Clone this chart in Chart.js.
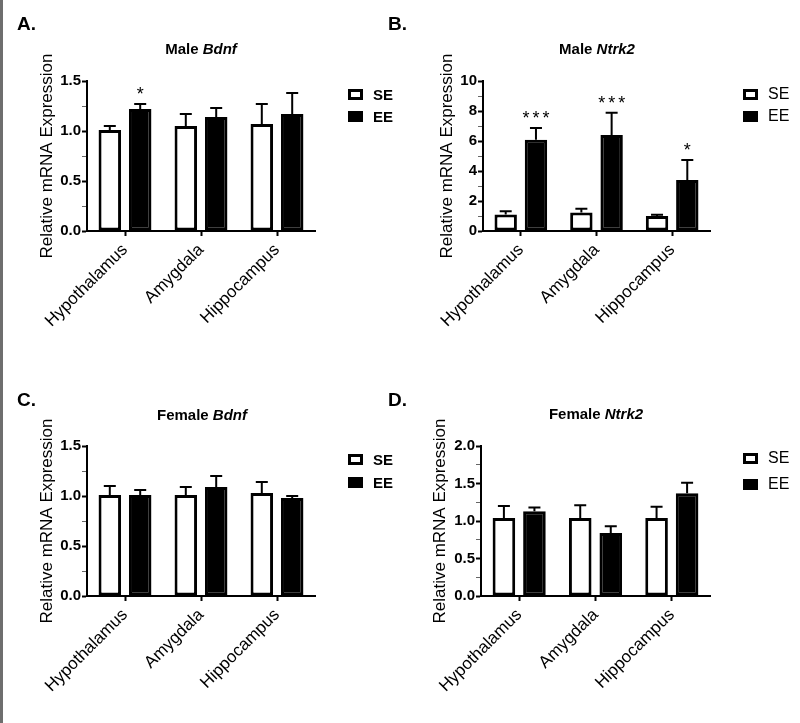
<!DOCTYPE html>
<html>
<head>
<meta charset="utf-8">
<script src="https://cdn.jsdelivr.net/npm/chart.js@4.4.1/dist/chart.umd.min.js"></script>
<style>
  body { margin: 0; background: #fff; font-family: "Liberation Sans", Arial, sans-serif; color: #000; }
  #page { position: relative; width: 800px; height: 723px; overflow: hidden; }
  #page canvas { position: absolute; }
  .edge { position: absolute; left: 0; top: 0; width: 3px; height: 723px; background: #6e6e6e; }
  .panel-label { position: absolute; font-weight: bold; font-size: 19px; line-height: 19px; }
  .title { position: absolute; width: 300px; text-align: center; font-weight: bold; font-size: 15px; line-height: 18px; }
  .legend-row { position: absolute; display: flex; align-items: center; height: 20px; }
  .legend-row .box { width: 15px; height: 11px; box-sizing: border-box; margin-right: 10px; }
</style>
</head>
<body>
<div id="page">
  <canvas id="chartA" width="400" height="350" style="left:0;top:0"></canvas>
  <canvas id="chartB" width="400" height="350" style="left:400px;top:0"></canvas>
  <canvas id="chartC" width="400" height="363" style="left:0;top:360px"></canvas>
  <canvas id="chartD" width="400" height="363" style="left:400px;top:360px"></canvas>

  <div class="edge"></div>
  <div class="panel-label" style="left:17px;top:14px">A.</div>
  <div class="panel-label" style="left:388px;top:14px">B.</div>
  <div class="panel-label" style="left:17px;top:390px">C.</div>
  <div class="panel-label" style="left:388px;top:390px">D.</div>

  <div class="title" style="left:51px;top:40px">Male <i>Bdnf</i></div>
  <div class="title" style="left:447px;top:40px">Male <i>Ntrk2</i></div>
  <div class="title" style="left:52px;top:406px">Female <i>Bdnf</i></div>
  <div class="title" style="left:446px;top:405px">Female <i>Ntrk2</i></div>
</div>
<script>
Chart.defaults.font.family = '"Liberation Sans", Arial, sans-serif';
Chart.defaults.color = '#000';

const regions = ['Hypothalamus', 'Amygdala', 'Hippocampus'];
const seriesNames = ['SE', 'EE'];

// A. Male Bdnf
const maleBdnfSE = [1.01, 1.05, 1.07];
const maleBdnfSEErr = [0.04, 0.12, 0.20];
const maleBdnfEE = [1.22, 1.14, 1.17];
const maleBdnfEEErr = [0.05, 0.09, 0.21];
const maleBdnfSig = ['*', '', ''];

// B. Male Ntrk2
const maleNtrk2SE = [1.10, 1.23, 1.00];
const maleNtrk2SEErr = [0.21, 0.26, 0.09];
const maleNtrk2EE = [6.09, 6.40, 3.40];
const maleNtrk2EEErr = [0.78, 1.49, 1.33];
const maleNtrk2Sig = ['***', '***', '*'];

// C. Female Bdnf
const femaleBdnfSE = [1.01, 1.01, 1.03];
const femaleBdnfSEErr = [0.09, 0.08, 0.11];
const femaleBdnfEE = [1.01, 1.09, 0.98];
const femaleBdnfEEErr = [0.05, 0.11, 0.02];

// D. Female Ntrk2
const femaleNtrk2SE = [1.04, 1.04, 1.04];
const femaleNtrk2SEErr = [0.16, 0.17, 0.15];
const femaleNtrk2EE = [1.13, 0.84, 1.37];
const femaleNtrk2EEErr = [0.05, 0.09, 0.14];

const bdnfTicks = { max: 1.5, step: 0.25, major: 0.5, decimals: 1 };
const ntrk2MaleTicks = { max: 10, step: 1, major: 2, decimals: 0 };
const ntrk2FemaleTicks = { max: 2.0, step: 0.25, major: 0.5, decimals: 1 };

// upper error bar with a centred cap, Prism style
const errorBars = {
  id: 'errorBars',
  afterDatasetsDraw(chart) {
    const { ctx } = chart;
    const y = chart.scales.y;
    ctx.save();
    ctx.strokeStyle = '#000';
    ctx.lineWidth = 2;
    chart.data.datasets.forEach((ds, i) => {
      chart.getDatasetMeta(i).data.forEach((bar, j) => {
        const top = y.getPixelForValue(ds.data[j] + ds.errors[j]);
        ctx.beginPath();
        ctx.moveTo(bar.x, bar.y);
        ctx.lineTo(bar.x, top);
        ctx.moveTo(bar.x - 6, top);
        ctx.lineTo(bar.x + 6, top);
        ctx.stroke();
      });
    });
    ctx.restore();
  },
};

// significance stars above the EE error bars
const sigStars = {
  id: 'sigStars',
  afterDatasetsDraw(chart) {
    const { ctx } = chart;
    const y = chart.scales.y;
    ctx.save();
    ctx.fillStyle = '#000';
    ctx.font = '18px "Liberation Sans", Arial, sans-serif';
    ctx.textAlign = 'center';
    ctx.textBaseline = 'alphabetic';
    chart.data.datasets.forEach((ds, i) => {
      if (!ds.sig) return;
      chart.getDatasetMeta(i).data.forEach((bar, j) => {
        const stars = ds.sig[j];
        if (!stars) return;
        const base = y.getPixelForValue(ds.data[j] + ds.errors[j]) - 4;
        const n = stars.length;
        for (let k = 0; k < n; k++) {
          ctx.fillText('*', bar.x + (k - (n - 1) / 2) * 10, base);
        }
      });
    });
    ctx.restore();
  },
};

function addLegend(x, rowsY, bold, size) {
  const page = document.getElementById('page');
  seriesNames.forEach((name, i) => {
    const row = document.createElement('div');
    row.className = 'legend-row';
    row.style.left = x + 'px';
    row.style.top = (rowsY[i] - 10) + 'px';
    const box = document.createElement('span');
    box.className = 'box';
    box.style.background = i === 0 ? '#fff' : '#000';
    box.style.border = '3px solid #000';
    const txt = document.createElement('span');
    txt.textContent = name;
    txt.style.fontSize = size + 'px';
    txt.style.fontWeight = bold ? 'bold' : 'normal';
    row.appendChild(box);
    row.appendChild(txt);
    page.appendChild(row);
  });
}

function makePanel(id, area, titleX, se, seErr, ee, eeErr, sig, axis) {
  const canvas = document.getElementById(id);
  const isMajor = (v) => Math.abs(v / axis.major - Math.round(v / axis.major)) < 1e-6;
  return new Chart(canvas, {
    type: 'bar',
    data: {
      labels: regions,
      datasets: [
        { label: seriesNames[0], data: se, errors: seErr, backgroundColor: '#fff',
          borderColor: '#000', borderWidth: 3, borderSkipped: false },
        { label: seriesNames[1], data: ee, errors: eeErr, sig: sig, backgroundColor: '#000',
          borderColor: '#000', borderWidth: 3, borderSkipped: false },
      ],
    },
    options: {
      responsive: false,
      animation: false,
      devicePixelRatio: 1,
      categoryPercentage: 0.8,
      barPercentage: 0.74,
      layout: { padding: { left: 0, top: area.y0, right: canvas.width - area.x1, bottom: 0 } },
      plugins: { legend: { display: false }, tooltip: { enabled: false } },
      scales: {
        x: {
          grid: { offset: false, drawOnChartArea: false, tickLength: 5, tickColor: '#000', tickWidth: 2 },
          border: { color: '#000', width: 2 },
          ticks: { color: '#000', font: { size: 17 }, minRotation: 45, maxRotation: 45, padding: 4 },
          afterFit: (s) => { s.height = canvas.height - area.y1; },
        },
        y: {
          min: 0,
          max: axis.max,
          ticks: {
            stepSize: axis.step,
            autoSkip: false,
            padding: 1,
            color: '#000',
            font: { size: 15, weight: 'bold' },
            callback: (v) => (isMajor(v) ? v.toFixed(axis.decimals) : ''),
          },
          grid: {
            drawOnChartArea: false,
            tickLength: 5,
            tickColor: (c) => (isMajor(c.tick.value) ? '#000' : '#666'),
            tickWidth: (c) => (isMajor(c.tick.value) ? 2 : 1),
          },
          border: { color: '#000', width: 2 },
          title: {
            display: true,
            text: 'Relative mRNA Expression',
            color: '#000',
            font: { size: 17 },
            padding: { top: titleX - 10.2, bottom: 0 },
          },
          afterFit: (s) => { s.width = area.x0; },
        },
      },
    },
    plugins: [errorBars, sigStars],
  });
}

makePanel('chartA', { x0: 87, x1: 315, y0: 81, y1: 231 }, 47,
  maleBdnfSE, maleBdnfSEErr, maleBdnfEE, maleBdnfEEErr, maleBdnfSig, bdnfTicks);
makePanel('chartB', { x0: 83, x1: 310, y0: 81, y1: 231 }, 47,
  maleNtrk2SE, maleNtrk2SEErr, maleNtrk2EE, maleNtrk2EEErr, maleNtrk2Sig, ntrk2MaleTicks);
makePanel('chartC', { x0: 87, x1: 315, y0: 86, y1: 236 }, 47,
  femaleBdnfSE, femaleBdnfSEErr, femaleBdnfEE, femaleBdnfEEErr, null, bdnfTicks);
makePanel('chartD', { x0: 81, x1: 310, y0: 86, y1: 236 }, 40,
  femaleNtrk2SE, femaleNtrk2SEErr, femaleNtrk2EE, femaleNtrk2EEErr, null, ntrk2FemaleTicks);

addLegend(348, [94, 116], true, 15);
addLegend(743, [94, 116], false, 16);
addLegend(348, [459, 482], true, 15);
addLegend(743, [458, 484], false, 16);
</script>
</body>
</html>
